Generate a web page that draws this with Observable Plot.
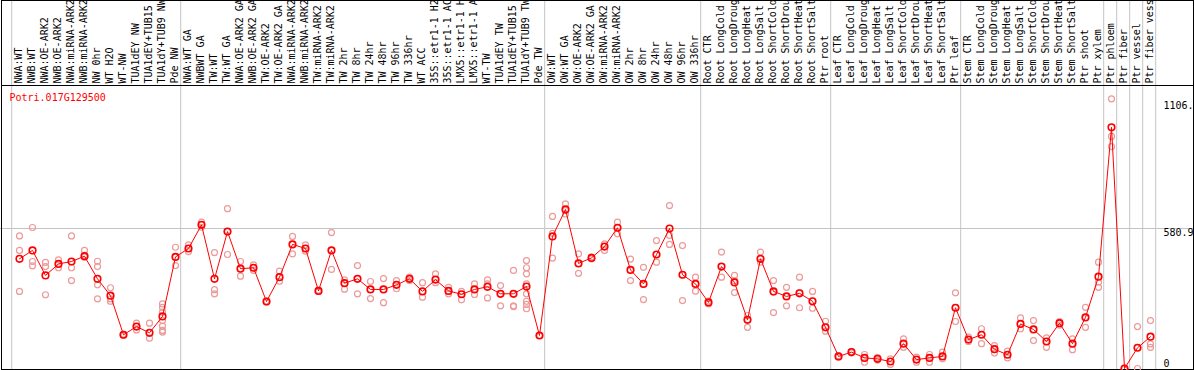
<!DOCTYPE html>
<html>
<head>
<meta charset="utf-8">
<script src="https://cdn.jsdelivr.net/npm/d3@7"></script>
<script src="https://cdn.jsdelivr.net/npm/@observablehq/plot@0.6"></script>
<style>
  html, body { margin: 0; padding: 0; background: white; }
  #chart svg { display: block; }
</style>
</head>
<body>
<div id="chart"></div>
<script>
const geneId = "Potri.017G129500";

const conditions = [
  "NWA:WT", "NWB:WT", "NWA:OE-ARK2", "NWB:OE-ARK2", "NWA:miRNA-ARK2", "NWB:miRNA-ARK2", "NW 0hr", "WT H2O", "WT-NW", "TUA1dEY NW", "TUA1dEY+TUB15", "TUA1dY+TUB9 NW", "Pde NW",
  "NWA:WT GA", "NWBWT GA", "TW:WT", "TW:WT GA", "NWA:OE-ARK2 GA", "NWB:OE-ARK2 GA", "TW:OE-ARK2", "TW:OE-ARK2 GA", "NWA:miRNA-ARK2", "NWB:miRNA-ARK2", "TW:miRNA-ARK2", "TW:miRNA-ARK2", "TW 2hr", "TW 8hr", "TW 24hr", "TW 48hr", "TW 96hr", "TW 336hr", "WT ACC", "35S::etr1-1 H2", "35S::etr1-1 AC", "LMX5::etr1-1 H", "LMX5::etr1-1 A", "WT-TW", "TUA1dEY TW", "TUA1dEY+TUB15", "TUA1dY+TUB9 TW", "Pde TW",
  "OW:WT", "OW:WT GA", "OW:OE-ARK2", "OW:OE-ARK2 GA", "OW:miRNA-ARK2", "OW:miRNA-ARK2", "OW 2hr", "OW 8hr", "OW 24hr", "OW 48hr", "OW 96hr", "OW 336hr",
  "Root CTR", "Root LongCold", "Root LongDroug", "Root LongHeat", "Root LongSalt", "Root ShortCold", "Root ShortDrou", "Root ShortHeat", "Root ShortSalt", "Ptr root",
  "Leaf CTR", "Leaf LongCold", "Leaf LongDroug", "Leaf LongHeat", "Leaf LongSalt", "Leaf ShortCold", "Leaf ShortDrou", "Leaf ShortHeat", "Leaf ShortSalt", "Ptr leaf",
  "Stem CTR", "Stem LongCold", "Stem LongDroug", "Stem LongHeat", "Stem LongSalt", "Stem ShortCold", "Stem ShortDrou", "Stem ShortHeat", "Stem ShortSalt", "Ptr shoot", "Ptr xylem",
  "Ptr phloem", "Ptr fiber", "Ptr vessel", "Ptr fiber vess"
];

const meanExpression = [
  455, 490, 386, 434, 444, 466, 372, 302, 140, 174, 148, 216, 463,
  498, 596, 372, 568, 414, 418, 278, 379, 515, 498, 322, 490, 354, 372, 328, 328, 347, 372, 320, 369, 322, 308, 328, 339, 310, 310, 340, 137,
  548, 660, 436, 459, 506, 584, 409, 351, 473, 581, 389, 351,
  274, 423, 357, 202, 455, 320, 299, 312, 279, 171,
  50, 68, 44, 40, 29, 103, 37, 44, 50, 252,
  120, 140, 80, 57, 185, 162, 112, 188, 103, 212, 381,
  1001, 0, 86, 132
];

const replicates = [
  [550, 490, 320], [585, 444, 426], [440, 423, 306], [451, 434, 418], [550, 418, 365], [490, 469, 462], [445, 423, 347, 289], [335, 289, 279], [142, 140, 138], [188, 174, 160], [188, 148, 126], [268, 254, 234, 199, 176, 158, 151], [503, 463, 427],
  [513, 498, 485], [607, 596, 586], [481, 327, 310], [663, 568, 473], [444, 414, 383], [430, 418, 407], [280, 278, 276], [404, 379, 362], [548, 515, 476], [513, 498, 487], [325, 322, 320], [564, 490, 411], [368, 354, 329], [427, 372, 310], [361, 328, 290], [373, 328, 273], [365, 347, 331], [379, 372, 365], [356, 320, 296], [393, 369, 356], [337, 322, 310], [320, 308, 285], [351, 328, 307], [368, 351, 293], [344, 310, 260], [407, 310, 260, 257], [448, 418, 393, 351, 310, 279, 266, 248], [137, 137, 137],
  [631, 561, 458], [683, 655, 641], [476, 436, 395], [463, 459, 455], [517, 506, 490], [607, 584, 559], [454, 409, 365], [420, 351, 286], [531, 473, 441], [676, 552, 515], [510, 389, 282], [379, 351, 321],
  [280, 274, 268], [483, 423, 379], [386, 365, 315], [220, 202, 171], [483, 455, 441], [365, 317, 232], [337, 299, 260], [379, 314, 252], [320, 279, 250], [196, 171, 155],
  [52, 50, 47], [70, 67, 65], [58, 44, 26], [45, 40, 35], [40, 29, 17], [123, 103, 88], [47, 37, 26], [58, 44, 26], [68, 50, 40], [314, 252, 195],
  [130, 120, 112], [165, 140, 103], [95, 80, 64], [72, 57, 44], [210, 185, 165], [199, 162, 116], [127, 112, 88], [195, 188, 180], [123, 103, 78], [254, 212, 171], [441, 358, 337],
  [1119, 963, 921], [2, 0, 0], [174, 86, 0], [199, 102, 88]
];

// indices where a new group of conditions starts (vertical separators)
const groupStarts = [0, 13, 41, 53, 63, 73, 84, 85, 86, 87, 88];

const yTicks = [0, 580.9, 1106];
const yTickLabels = ["0", "580.9", "1106."];

const means = conditions.map((c, i) => ({i, c, v: meanExpression[i]}));
const reps = replicates.flatMap((arr, i) => arr.map(v => ({i, v})));
const ticks = yTicks.map((v, k) => ({v, label: yTickLabels[k]}));

const HEADER = 85;

const chart = Plot.plot({
  width: 1194,
  height: 370,
  marginTop: HEADER,
  marginLeft: 0,
  marginRight: 0,
  marginBottom: 0,
  x: {type: "linear", domain: [0, conditions.length - 1], range: [19, 1150], axis: null},
  y: {type: "linear", domain: [0, 580.9], range: [368, 228], axis: null},
  style: {fontFamily: "'DejaVu Sans Mono', monospace", fontSize: "10px", background: "white", color: "black"},
  marks: [
    Plot.ruleX(groupStarts, {x: d => d - 0.6, stroke: "#c4c4c4", strokeWidth: 1, insetTop: -HEADER}),
    Plot.ruleY([yTicks[1]], {stroke: "#c4c4c4", strokeWidth: 1}),
    Plot.frame({stroke: "black", insetLeft: 1, insetRight: 1, insetBottom: 1, insetTop: -HEADER}),
    Plot.frame({stroke: "black", insetLeft: 1, insetRight: 1, insetBottom: 1}),
    Plot.text(conditions, {
      x: (d, i) => i,
      text: d => d,
      frameAnchor: "top",
      rotate: -90,
      textAnchor: "start",
      lineAnchor: "middle",
      dx: -1,
      dy: -2,
      fill: "black"
    }),
    Plot.text([geneId], {
      text: d => d,
      frameAnchor: "top-left",
      textAnchor: "start",
      lineAnchor: "bottom",
      dx: 9,
      dy: 15,
      fill: "red"
    }),
    Plot.text(ticks.filter(d => d.v !== 0), {
      y: "v",
      text: "label",
      frameAnchor: "right",
      textAnchor: "start",
      lineAnchor: "top",
      dx: -31,
      fill: "black"
    }),
    Plot.text(ticks.filter(d => d.v === 0), {
      y: "v",
      text: "label",
      frameAnchor: "right",
      textAnchor: "start",
      lineAnchor: "bottom",
      dx: -31,
      dy: -2,
      fill: "black"
    }),
    Plot.dot(reps, {x: "i", y: "v", r: 3, stroke: "#ec9a9a", strokeWidth: 1.2, fill: "none"}),
    Plot.line(means, {x: "i", y: "v", stroke: "red", strokeWidth: 1}),
    Plot.dot(means, {x: "i", y: "v", r: 3.3, stroke: "red", strokeWidth: 1.6, fill: "none"})
  ]
});
document.getElementById("chart").appendChild(chart);
</script>
</body>
</html>
